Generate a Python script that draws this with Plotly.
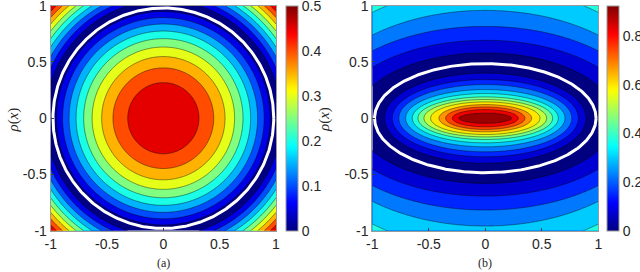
import numpy as np
import plotly.graph_objects as go

# ---------------- data ----------------
axis_ticks = [-1, -0.5, 0, 0.5, 1]
axis_tick_labels = ["-1", "-0.5", "0", "0.5", "1"]

# panel (a): value 0.5 at centre/corners, zero on the unit circle, 0.05 level step
a_peak = 0.5
a_zero_radius = 1.0
a_level_step = 0.05
a_n_levels = 9
a_cbar_ticks = [0, 0.1, 0.2, 0.3, 0.4, 0.5]
a_cbar_labels = ["0", "0.1", "0.2", "0.3", "0.4", "0.5"]
a_white_radius = 0.98

# panel (b): measured semi-axes of the contour ellipses for each signed level value
b_zmax = 0.925
b_level_step = 0.075
b_n_levels = 12
b_levels = [-0.525, -0.45, -0.375, -0.3, -0.225, -0.15, -0.075, 0.0, 0.075, 0.15, 0.225,
            0.3, 0.375, 0.45, 0.525, 0.6, 0.675, 0.75, 0.825, 0.9, 0.925]
b_semi_x = [2.0, 1.85, 1.69, 1.57, 1.47, 1.32, 1.15, 0.975, 0.891, 0.823, 0.765, 0.705,
            0.646, 0.596, 0.543, 0.484, 0.41, 0.351, 0.292, 0.234, 0.0]
b_semi_y = [1.7, 1.4, 1.166, 0.958, 0.816, 0.692, 0.58, 0.48, 0.40, 0.343, 0.299, 0.254,
            0.219, 0.189, 0.166, 0.145, 0.121, 0.10, 0.077, 0.047, 0.0]
b_cbar_ticks = [0, 0.2, 0.4, 0.6, 0.8]
b_cbar_labels = ["0", "0.2", "0.4", "0.6", "0.8"]
b_white_axes = [0.98, 0.485]

# ---------------- helpers ----------------
def jet(t):
    t = float(np.clip(t, 0, 1))
    r = np.clip(1.5 - abs(4 * t - 3), 0, 1)
    g = np.clip(1.5 - abs(4 * t - 2), 0, 1)
    b = np.clip(1.5 - abs(4 * t - 1), 0, 1)
    return "rgb(%d,%d,%d)" % (round(r * 255), round(g * 255), round(b * 255))

jet_scale = [[i / 63, jet(i / 63)] for i in range(64)]

def band_scale(n_levels, color_of_band):
    # plotly fills band k (above the k-th level) with the colorscale at k/n_levels
    return [[k / n_levels, color_of_band(k)] for k in range(n_levels + 1)]

xs = np.linspace(-1, 1, 321)
ys = np.linspace(-1, 1, 321)
X, Y = np.meshgrid(xs, ys)

# field (a)
Za = a_peak * np.abs(1 - (X ** 2 + Y ** 2) / a_zero_radius ** 2)

# field (b): find the level whose ellipse passes through each point
lv = np.array(b_levels, float)
sx = np.array(b_semi_x)
sy = np.array(b_semi_y)
lo = np.full(X.shape, lv[0])
hi = np.full(X.shape, lv[-1])
for _ in range(45):
    mid = 0.5 * (lo + hi)
    U = np.maximum(np.interp(mid, lv, sx), 1e-9)
    V = np.maximum(np.interp(mid, lv, sy), 1e-9)
    inside = (X / U) ** 2 + (Y / V) ** 2 < 1
    lo = np.where(inside, mid, lo)
    hi = np.where(inside, hi, mid)
Zb = np.abs(0.5 * (lo + hi))

# ---------------- layout geometry ----------------
W, H = 640, 272
top_px, bot_px = 5.7, 230.7
ydom = [1 - bot_px / H, 1 - top_px / H]
ymid = (ydom[0] + ydom[1]) / 2
xdom_a = [50.7 / W, 276.0 / W]
xdom_b = [372.3 / W, 598.3 / W]

tick_font = dict(family="Liberation Sans, Arial, sans-serif", size=14, color="#262626")
label_font = dict(family="Liberation Serif, serif", size=15, color="#262626")

fig = go.Figure()

fig.add_trace(go.Contour(
    x=xs, y=ys, z=Za, xaxis="x", yaxis="y",
    contours=dict(start=a_level_step, end=a_level_step * a_n_levels, size=a_level_step, coloring="fill"),
    colorscale=band_scale(a_n_levels, lambda k: jet(k * a_level_step / a_peak)),
    line=dict(color="rgba(0,0,0,0.85)", width=0.5, smoothing=1),
    showscale=False, hoverinfo="skip"))

fig.add_trace(go.Contour(
    x=xs, y=ys, z=Zb, xaxis="x2", yaxis="y2",
    contours=dict(start=b_level_step, end=b_level_step * b_n_levels, size=b_level_step, coloring="fill"),
    colorscale=band_scale(b_n_levels, lambda k: jet(k * b_level_step / b_zmax)),
    line=dict(color="rgba(0,0,0,0.85)", width=0.5, smoothing=1),
    showscale=False, hoverinfo="skip"))

th = np.linspace(0, 2 * np.pi, 400)
fig.add_trace(go.Scatter(x=a_white_radius * np.cos(th), y=a_white_radius * np.sin(th),
                         mode="lines", line=dict(color="white", width=3), xaxis="x", yaxis="y",
                         hoverinfo="skip", showlegend=False))
fig.add_trace(go.Scatter(x=b_white_axes[0] * np.cos(th), y=b_white_axes[1] * np.sin(th),
                         mode="lines", line=dict(color="white", width=3), xaxis="x2", yaxis="y2",
                         hoverinfo="skip", showlegend=False))

def cbar_trace(xa, ya, cmax, left_px, tv, tt):
    return go.Scatter(
        x=[None], y=[None], xaxis=xa, yaxis=ya, mode="markers", showlegend=False, hoverinfo="skip",
        marker=dict(color=[0], colorscale=jet_scale, cmin=0, cmax=cmax, showscale=True,
                    colorbar=dict(x=left_px / W, xanchor="left", xpad=0, ypad=0,
                                  thickness=12, thicknessmode="pixels",
                                  len=(bot_px - top_px) / H, lenmode="fraction",
                                  y=ymid, yanchor="middle",
                                  outlinewidth=1, outlinecolor="#9a9a9a",
                                  tickvals=tv, ticktext=tt, ticks="",
                                  ticklabeloverflow="allow",
                                  tickfont=tick_font)))

fig.add_trace(cbar_trace("x", "y", a_peak, 286.0, a_cbar_ticks, a_cbar_labels))
fig.add_trace(cbar_trace("x2", "y2", b_zmax, 607.3, b_cbar_ticks, b_cbar_labels))

ax_common = dict(range=[-1, 1], tickvals=axis_ticks, ticktext=axis_tick_labels,
                 ticks="inside", ticklen=3, tickcolor="#404040", showline=True, mirror=True,
                 linecolor="#9a9a9a", linewidth=1, showgrid=False, zeroline=False,
                 ticklabeloverflow="allow", tickfont=tick_font, fixedrange=True)

def ann(text, xpx, ypx, font, angle=0):
    return dict(text=text, x=xpx / W, y=1 - ypx / H, xref="paper", yref="paper",
                xanchor="center", yanchor="middle", textangle=angle, showarrow=False, font=font)

fig.update_layout(
    width=W, height=H, autosize=False,
    margin=dict(l=0, r=0, t=0, b=0, pad=0, autoexpand=False),
    paper_bgcolor="white", plot_bgcolor="white", showlegend=False,
    xaxis=dict(domain=xdom_a, anchor="y", **ax_common),
    yaxis=dict(domain=ydom, anchor="x", **ax_common),
    xaxis2=dict(domain=xdom_b, anchor="y2", **ax_common),
    yaxis2=dict(domain=ydom, anchor="x2", **ax_common),
    annotations=[
        ann("<i>ρ</i>(<i>x</i>)", 12.5, 120.0, label_font, -90),
        ann("<i>ρ</i>(<i>x</i>)", 324.0, 120.0, label_font, -90),
        ann("(a)", 163.0, 263.0, dict(family="Liberation Serif, serif", size=12, color="#262626")),
        ann("(b)", 485.0, 263.0, dict(family="Liberation Serif, serif", size=12, color="#262626")),
    ],
)

fig.write_html("out.html", config={"displayModeBar": False},
               post_script="document.body.style.margin='0px';document.body.style.overflow='hidden';")
